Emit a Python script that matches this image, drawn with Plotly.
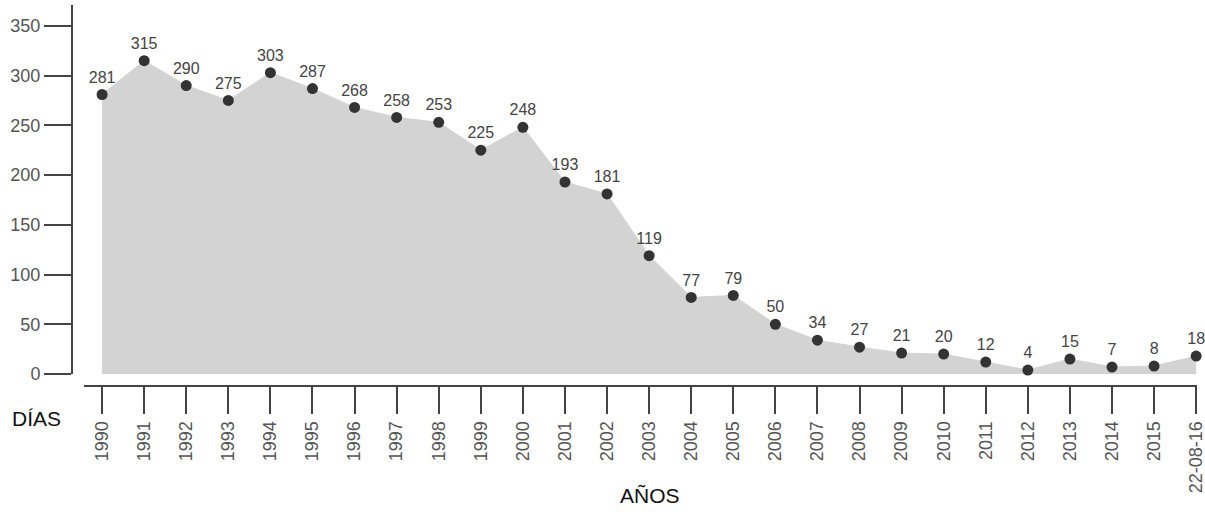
import plotly.graph_objects as go

# Datos: días por año
anios = ["1990", "1991", "1992", "1993", "1994", "1995", "1996", "1997", "1998",
         "1999", "2000", "2001", "2002", "2003", "2004", "2005", "2006", "2007",
         "2008", "2009", "2010", "2011", "2012", "2013", "2014", "2015", "22-08-16"]
dias = [281, 315, 290, 275, 303, 287, 268, 258, 253, 225, 248, 193, 181, 119,
        77, 79, 50, 34, 27, 21, 20, 12, 4, 15, 7, 8, 18]
y_ticks = [0, 50, 100, 150, 200, 250, 300, 350]

FONT = "Liberation Sans, Helvetica Neue, Arial, sans-serif"
AXIS_COLOR = "#444444"

W, H = 1205, 512
L, R, T, B = 72, 8, 5, 126
plot_w = W - L - R
plot_h = H - T - B

fig = go.Figure()

# Area gris
fig.add_trace(go.Scatter(
    x=anios, y=dias,
    mode="lines",
    fill="tozeroy",
    fillcolor="#d3d3d3",
    line=dict(color="#d3d3d3", width=1),
    hoverinfo="skip",
    showlegend=False,
))

# Puntos con etiquetas
fig.add_trace(go.Scatter(
    x=anios, y=dias,
    mode="markers+text",
    marker=dict(color="#333333", size=11),
    text=[str(v) for v in dias],
    textposition="top center",
    textfont=dict(family=FONT, size=16, color="#444444"),
    cliponaxis=False,
    showlegend=False,
))

fig.update_layout(
    width=W, height=H,
    margin=dict(l=L, r=R, t=T, b=B, autoexpand=False),
    plot_bgcolor="white",
    paper_bgcolor="white",
    font=dict(family=FONT, color="#444444"),
    xaxis=dict(
        type="category",
        domain=[12 / plot_w, 1],
        anchor="free",
        position=0,
        range=[-0.43, 26.02],
        automargin=False,
        showline=True, linecolor=AXIS_COLOR, linewidth=2,
        ticks="outside", ticklen=27, tickwidth=2, tickcolor=AXIS_COLOR,
        tickangle=-90,
        tickfont=dict(family=FONT, size=18, color="#555555"),
        showgrid=False, zeroline=False,
    ),
    yaxis=dict(
        domain=[12 / plot_h, 1],
        anchor="free",
        position=0,
        range=[0, 371],
        tickvals=y_ticks,
        automargin=False,
        showline=True, linecolor=AXIS_COLOR, linewidth=2,
        ticks="outside", ticklen=27, tickwidth=2, tickcolor=AXIS_COLOR,
        tickfont=dict(family=FONT, size=18, color="#555555"),
        showgrid=False, zeroline=False,
    ),
    annotations=[
        dict(text="DÍAS", xref="paper", yref="paper",
             x=(10 - L) / plot_w, y=(H - B - 418) / plot_h,
             xanchor="left", yanchor="middle", showarrow=False,
             font=dict(family=FONT, size=21, color="#111111")),
        dict(text="AÑOS", xref="paper", yref="paper",
             x=(650 - L) / plot_w, y=(H - B - 495) / plot_h,
             xanchor="center", yanchor="middle", showarrow=False,
             font=dict(family=FONT, size=21, color="#111111")),
    ],
)

# quitar el margen por defecto del <body> para que la figura llene la ventana
fig.write_html(
    "out.html",
    config={"displayModeBar": False},
    post_script="document.body.style.margin='0';document.body.style.overflow='hidden';",
)
